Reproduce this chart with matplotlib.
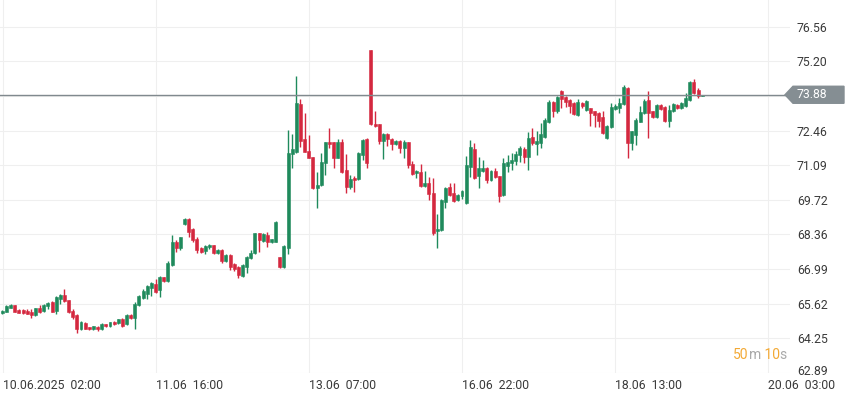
import numpy as np
import matplotlib.pyplot as plt
from matplotlib.patches import Polygon
from matplotlib.transforms import blended_transform_factory, ScaledTranslation
from matplotlib.offsetbox import TextArea, HPacker, AnnotationBbox

plt.rcParams['font.family'] = ['Roboto', 'DejaVu Sans']

# hourly candles
opens = [65.24, 65.31, 65.47, 65.56, 65.36, 65.38, 65.35, 65.31, 65.18, 65.46,
         65.32, 65.53, 65.69, 65.35, 65.80, 65.98, 65.75, 65.35, 65.17, 64.63,
         64.84, 64.69, 64.61, 64.72, 64.63, 64.80, 64.74, 64.89, 64.85, 65.00,
         64.81, 65.18, 65.05, 65.57, 65.86, 66.00, 66.23, 66.40, 66.16, 66.66,
         66.53, 67.15, 68.07, 67.81, 68.77, 68.96, 68.57, 68.17, 67.84, 67.72,
         67.85, 67.93, 67.61, 67.74, 67.32, 67.55, 67.18, 67.08, 66.73, 67.08,
         67.41, 67.61, 68.40, 68.11, 68.34, 68.05, 68.07, 67.45, 67.08, 67.81,
         71.53, 71.63, 73.51, 72.12, 71.66, 71.41, 70.21, 70.32, 71.17, 72.00,
         72.00, 71.40, 72.00, 70.89, 70.25, 70.61, 70.54, 71.50, 72.12, 75.65,
         72.71, 72.71, 72.07, 72.32, 72.12, 71.92, 72.06, 71.77, 72.00, 71.15,
         70.78, 70.82, 70.28, 70.38, 69.99, 68.50, 68.54, 69.66, 70.23, 69.99,
         69.72, 69.86, 69.59, 71.04, 71.73, 70.67, 70.88, 71.00, 70.51, 70.87,
         70.65, 69.91, 71.08, 71.17, 71.28, 71.50, 71.74, 71.41, 72.20, 71.94,
         71.99, 72.23, 72.82, 73.61, 73.24, 74.03, 73.81, 73.68, 73.54, 73.08,
         73.57, 73.28, 73.35, 73.22, 73.15, 72.99, 72.16, 72.62, 73.32, 73.35,
         73.51, 74.16, 71.96, 72.29, 72.82, 73.15, 73.68, 73.22, 73.02, 73.48,
         73.41, 72.86, 73.22, 73.48, 73.35, 73.45, 73.68, 74.40, 74.05, 73.85]
highs = [65.39, 65.57, 65.61, 65.57, 65.40, 65.43, 65.42, 65.42, 65.46, 65.56,
         65.61, 65.68, 65.72, 65.93, 66.01, 66.21, 65.77, 65.40, 65.21, 64.92,
         64.88, 64.72, 64.76, 64.76, 64.84, 64.82, 64.90, 64.92, 65.03, 65.05,
         65.21, 65.23, 65.67, 65.97, 66.19, 66.36, 66.47, 66.58, 66.72, 66.69,
         67.31, 68.34, 68.14, 68.27, 68.99, 68.99, 68.60, 68.24, 67.88, 67.94,
         67.98, 67.95, 67.77, 67.77, 67.59, 67.59, 67.22, 67.12, 67.18, 67.51,
         67.74, 68.43, 68.43, 68.42, 68.44, 68.19, 68.88, 67.48, 67.94, 72.49,
         72.32, 74.63, 73.72, 73.15, 72.29, 71.44, 70.84, 71.57, 72.03, 72.56,
         72.03, 72.13, 72.13, 71.54, 70.71, 70.65, 71.61, 72.12, 72.16, 75.65,
         73.24, 72.74, 72.36, 72.35, 72.16, 72.08, 72.10, 72.10, 72.03, 71.28,
         70.91, 71.15, 70.87, 70.62, 70.61, 69.17, 69.75, 70.25, 70.38, 70.38,
         69.95, 70.12, 71.46, 72.10, 71.96, 71.44, 71.31, 71.04, 70.91, 70.98,
         70.67, 71.37, 71.50, 71.57, 71.64, 71.86, 71.83, 72.40, 72.56, 72.43,
         72.75, 72.95, 73.68, 73.64, 73.85, 74.07, 73.85, 73.72, 73.61, 73.72,
         73.61, 73.68, 73.37, 73.24, 73.19, 73.22, 72.69, 73.54, 73.51, 73.74,
         74.27, 74.20, 72.45, 72.95, 73.45, 73.72, 74.01, 73.24, 73.51, 73.51,
         73.44, 73.48, 73.56, 73.51, 73.59, 73.94, 74.43, 74.51, 74.14, 73.89]
lows = [65.22, 65.30, 65.44, 65.28, 65.26, 65.23, 65.22, 65.07, 65.14, 65.27,
        65.30, 65.42, 65.30, 65.22, 65.61, 65.67, 65.27, 65.03, 64.47, 64.57,
        64.63, 64.59, 64.59, 64.56, 64.60, 64.69, 64.70, 64.78, 64.82, 64.72,
        64.77, 65.02, 64.61, 65.55, 65.79, 65.82, 65.93, 66.03, 65.90, 66.47,
        66.49, 67.11, 67.65, 67.74, 68.73, 68.27, 68.07, 67.64, 67.64, 67.59,
        67.80, 67.57, 67.59, 67.22, 67.27, 66.95, 66.93, 66.65, 66.69, 66.85,
        67.37, 67.57, 67.68, 68.07, 67.88, 68.03, 68.05, 67.05, 67.03, 67.58,
        70.98, 71.57, 71.83, 71.61, 71.37, 70.16, 69.39, 70.29, 70.71, 71.79,
        70.98, 71.37, 70.78, 69.99, 70.16, 70.05, 70.52, 71.30, 70.98, 72.69,
        72.61, 71.92, 71.33, 71.86, 71.70, 71.90, 71.57, 71.37, 71.00, 70.71,
        70.58, 70.25, 70.23, 69.72, 68.34, 67.81, 68.51, 69.39, 69.88, 69.66,
        69.70, 69.75, 69.55, 70.62, 70.54, 70.19, 70.84, 70.41, 70.49, 70.58,
        69.66, 69.88, 70.84, 70.91, 71.11, 71.24, 71.17, 70.91, 71.90, 71.50,
        71.77, 72.16, 72.78, 73.02, 73.15, 73.37, 73.41, 73.17, 73.08, 73.06,
        73.35, 73.24, 72.66, 72.62, 72.62, 72.32, 72.13, 72.58, 73.28, 73.15,
        73.48, 71.37, 71.70, 71.90, 72.79, 73.11, 72.19, 72.95, 72.98, 73.28,
        72.82, 72.62, 73.19, 73.31, 73.32, 73.41, 73.64, 73.90, 73.74, 73.84]
closes = [65.35, 65.55, 65.57, 65.31, 65.27, 65.26, 65.23, 65.19, 65.44, 65.30,
          65.59, 65.64, 65.31, 65.88, 65.96, 65.71, 65.28, 65.11, 64.64, 64.88,
          64.64, 64.61, 64.73, 64.63, 64.81, 64.73, 64.88, 64.82, 65.00, 64.76,
          65.17, 65.05, 65.61, 65.93, 66.14, 66.32, 66.43, 66.10, 66.68, 66.50,
          67.24, 68.07, 67.84, 68.24, 68.97, 68.47, 68.14, 67.74, 67.68, 67.89,
          67.95, 67.61, 67.74, 67.32, 67.55, 67.08, 66.99, 66.76, 67.15, 67.48,
          67.64, 68.40, 68.14, 68.38, 68.07, 68.17, 68.85, 67.08, 67.91, 71.57,
          71.74, 73.54, 72.07, 71.63, 71.40, 70.19, 70.32, 71.24, 72.00, 71.92,
          71.40, 72.00, 70.84, 70.25, 70.54, 70.52, 71.57, 72.08, 71.17, 72.71,
          72.63, 72.07, 72.32, 72.12, 71.92, 72.06, 71.77, 72.03, 71.11, 70.75,
          70.87, 70.28, 70.38, 69.96, 68.41, 68.58, 69.72, 70.21, 69.92, 69.70,
          69.92, 70.08, 71.11, 71.81, 70.58, 70.98, 70.98, 70.51, 70.87, 70.62,
          69.86, 71.17, 71.24, 71.31, 71.54, 71.77, 71.41, 72.16, 71.96, 72.07,
          72.32, 72.89, 73.61, 73.24, 73.81, 73.72, 73.61, 73.45, 73.11, 73.61,
          73.45, 73.64, 73.15, 73.08, 72.85, 72.36, 72.65, 73.41, 73.45, 73.54,
          74.20, 71.96, 72.43, 72.89, 73.19, 73.64, 73.15, 73.02, 73.48, 73.32,
          72.86, 73.28, 73.51, 73.35, 73.54, 73.74, 74.40, 73.94, 73.85, 73.88]

price_ticks = [62.89, 64.25, 65.62, 66.99, 68.36, 69.72, 71.09, 72.46, 73.83, 75.20, 76.56]
last_price = 73.88
time_labels = ['10.06.2025  02:00', '11.06  16:00', '13.06  07:00',
               '16.06  22:00', '18.06  13:00', '20.06  03:00']
countdown = [('50', 'orange'), ('m', 'gray'), (' 10', 'orange'), ('s', 'gray')]

green = '#1f8a5c'
red = '#d4283f'
grid_c = '#efefef'
text_c = '#3a3a3a'

o = np.array(opens)
h = np.array(highs)
l = np.array(lows)
c = np.array(closes)
x = np.arange(len(o))
up = c >= o
colors = np.where(up, green, red)

fig = plt.figure(figsize=(8.54, 3.99), dpi=100)
ax = fig.add_axes([0, 26 / 399, 790 / 854, 373 / 399])

ax.set_xlim(-0.56, 190.2)
ax.set_ylim(62.883, 77.626)

# grid
tick_x = 0.17 + 36.95 * np.arange(len(time_labels))
ax.set_xticks(tick_x)
ax.set_xticklabels(time_labels, ha='left')
ax.set_yticks(price_ticks)
ax.set_yticklabels(['' if abs(t - last_price) < 0.1 else f'{t:.2f}' for t in price_ticks])
ax.grid(True, color=grid_c, lw=0.8)
ax.set_axisbelow(True)
ax.yaxis.tick_right()
ax.tick_params(axis='y', length=0, pad=5, labelsize=8.8, labelcolor=text_c)
ax.tick_params(axis='x', length=0, pad=4.5, labelsize=8.8, labelcolor=text_c)
for s in ax.spines.values():
    s.set_visible(False)

# lowest price label sits a bit above its gridline, like the original
bottom_lbl = ax.get_yticklabels()[0]
bottom_lbl.set_transform(bottom_lbl.get_transform() + ScaledTranslation(0, 3 / 100, fig.dpi_scale_trans))

# candles
ax.vlines(x, l, h, colors=colors, lw=1, zorder=2)
body_lo = np.minimum(o, c)
body_h = np.maximum(np.abs(c - o), 0.035)
ax.bar(x, body_h, bottom=body_lo, width=0.72, color=colors, edgecolor=colors, lw=0.4, zorder=3)

# last price line and tag
ax.axhline(last_price, xmax=785 / 790, color='#80898e', lw=1, zorder=4)
tr = blended_transform_factory(ax.transAxes, ax.transData)
dy = 8.5 * (77.626 - 62.883) / 373
tag = Polygon([(785 / 790, last_price), (793 / 790, last_price + dy), (844 / 790, last_price + dy),
               (844 / 790, last_price - dy), (793 / 790, last_price - dy)],
              closed=True, transform=tr, clip_on=False, color='#858e93', zorder=5)
ax.add_patch(tag)
ax.text(797 / 790, last_price, f'{last_price:.2f}', transform=tr, color='white',
        fontsize=8.8, va='center', ha='left', zorder=6)

# countdown
cmap = {'orange': '#f3a935', 'gray': '#a9a9a9'}
parts = [TextArea(t, textprops=dict(color=cmap[k], fontsize=10)) for t, k in countdown]
box = HPacker(children=parts, align='baseline', pad=0, sep=0)
ab = AnnotationBbox(box, (733, 44), xycoords='figure pixels', frameon=False,
                    box_alignment=(0, 0.5), pad=0)
fig.add_artist(ab)

fig.savefig('out.png', dpi=100)
